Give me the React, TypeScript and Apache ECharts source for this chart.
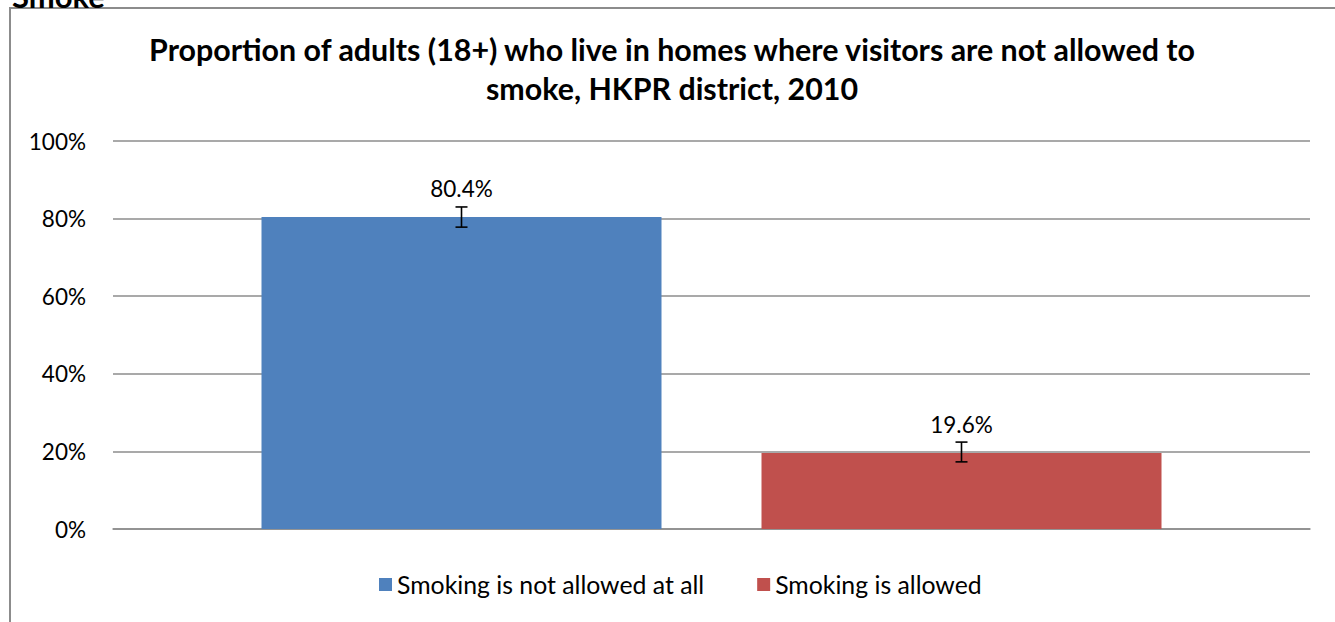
import React, { useEffect, useRef } from "react";
import * as echarts from "echarts";

const titleText =
  "Proportion of adults (18+) who live in homes where visitors are not allowed to\nsmoke, HKPR district, 2010";
const seriesNames = ["Smoking is not allowed at all", "Smoking is allowed"];
const seriesValues = [80.4, 19.6];
const errorLow = [77.8, 17.3];
const errorHigh = [83.0, 22.4];
const seriesColors = ["#4f81bd", "#c0504d"];
const yTicks = { min: 0, max: 100, interval: 20 };
const category = [""];

const FONT = "Lato, 'Noto Sans', sans-serif";
const BAR_WIDTH = 400;
const BAR_GAP = 0.25;

export default function App() {
  const ref = useRef<HTMLDivElement>(null);
  useEffect(() => {
    document.body.style.margin = "0";
    const chart = echarts.init(ref.current!, undefined, { renderer: "svg" });
    const n = seriesValues.length;
    const bars = seriesValues.map((v, i) => ({
      name: seriesNames[i],
      type: "bar",
      data: [v],
      barWidth: BAR_WIDTH,
      barGap: BAR_GAP * 100 + "%",
      itemStyle: { color: seriesColors[i] },
      label: {
        show: true,
        position: "top",
        distance: 17,
        formatter: (p: any) => p.value.toFixed(1) + "%",
        color: "#000",
        fontFamily: FONT,
        fontSize: 22.5,
      },
      z: 2,
    }));
    const errSeries = {
      type: "custom",
      data: seriesValues.map((_, i) => [i, errorLow[i], errorHigh[i]]),
      z: 5,
      renderItem: (params: any, api: any) => {
        const idx = api.value(0);
        const total = n * BAR_WIDTH + (n - 1) * BAR_WIDTH * BAR_GAP;
        const offset = -total / 2 + BAR_WIDTH / 2 + idx * BAR_WIDTH * (1 + BAR_GAP);
        const lo = api.coord([0, api.value(1)]);
        const hi = api.coord([0, api.value(2)]);
        const x = lo[0] + offset;
        const cap = 6;
        const style = { stroke: "#000", lineWidth: 1.6 };
        return {
          type: "group",
          children: [
            { type: "line", shape: { x1: x, y1: lo[1], x2: x, y2: hi[1] }, style },
            { type: "line", shape: { x1: x - cap, y1: lo[1], x2: x + cap, y2: lo[1] }, style },
            { type: "line", shape: { x1: x - cap, y1: hi[1], x2: x + cap, y2: hi[1] }, style },
          ],
        };
      },
    };
    chart.setOption({
      animation: false,
      title: {
        text: titleText,
        left: 667,
        textAlign: "center",
        top: 24,
        textStyle: {
          fontFamily: FONT,
          fontSize: 30.4,
          fontWeight: "bold",
          color: "#000",
          lineHeight: 39,
        },
      },
      legend: {
        data: seriesNames,
        bottom: 20,
        left: 374,
        icon: "rect",
        itemWidth: 13,
        itemHeight: 13,
        itemGap: 53,
        textStyle: { fontFamily: FONT, fontSize: 24.8, color: "#000" },
      },
      graphic: [
        {
          type: "rect",
          shape: { x: 10, y: 8, width: 1400, height: 700 },
          style: { fill: "none", stroke: "#8c8c8c", lineWidth: 2 },
          silent: true,
        },
        {
          type: "text",
          x: 12,
          y: 11,
          style: {
            text: "Smoke",
            fontFamily: FONT,
            fontSize: 31,
            fontWeight: "bold",
            fill: "#000",
            verticalAlign: "bottom",
          },
        },
      ],
      grid: { left: 113, right: 25, top: 141, bottom: 93 },
      xAxis: {
        type: "category",
        data: category,
        axisLine: { show: true, lineStyle: { color: "#8c8c8c", width: 1.5 } },
        axisTick: { show: false },
        axisLabel: { show: false },
      },
      yAxis: {
        type: "value",
        min: yTicks.min,
        max: yTicks.max,
        interval: yTicks.interval,
        axisLine: { show: false },
        axisTick: { show: false },
        axisLabel: {
          formatter: "{value}%",
          margin: 27,
          color: "#000",
          fontFamily: FONT,
          fontSize: 22.5,
        },
        splitLine: { lineStyle: { color: "#8c8c8c", width: 1.5 } },
      },
      series: [...bars, errSeries],
    });
    return () => chart.dispose();
  }, []);
  return <div ref={ref} style={{ position: "absolute", left: 0, top: 0, width: 1335, height: 622 }} />;
}
